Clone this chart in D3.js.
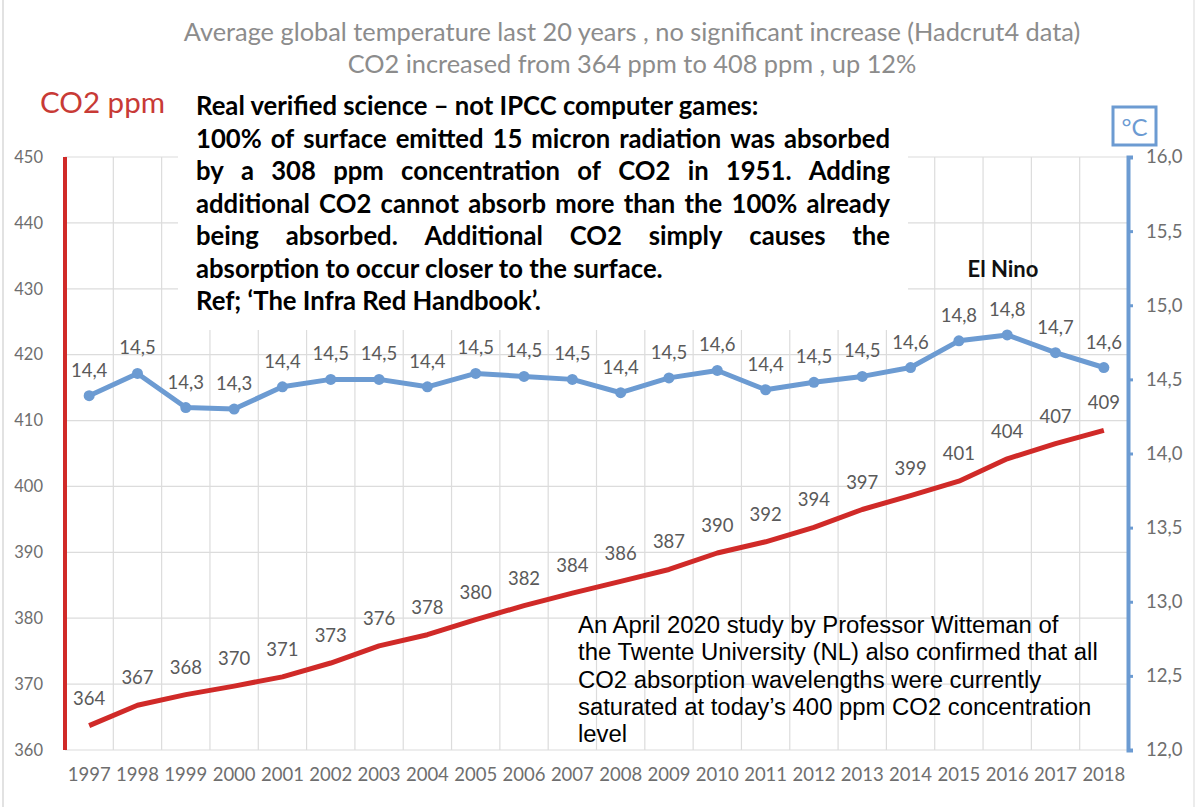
<!DOCTYPE html>
<html>
<head>
<meta charset="utf-8">
<script src="https://cdn.jsdelivr.net/npm/d3@7"></script>
<style>
  body { margin: 0; background: #fff; }
  svg { display: block; }
</style>
</head>
<body>
<div id="app"></div>
<script>
const years = ['1997', '1998', '1999', '2000', '2001', '2002', '2003', '2004', '2005', '2006', '2007',
  '2008', '2009', '2010', '2011', '2012', '2013', '2014', '2015', '2016', '2017', '2018'];

const co2 = [363.7, 366.8, 368.4, 369.7, 371.1, 373.2, 375.8, 377.5, 379.8, 381.9, 383.8,
  385.6, 387.4, 389.9, 391.6, 393.8, 396.5, 398.6, 400.8, 404.2, 406.5, 408.5];
const co2Labels = ['364', '367', '368', '370', '371', '373', '376', '378', '380', '382', '384',
  '386', '387', '390', '392', '394', '397', '399', '401', '404', '407', '409'];

const temp = [14.39, 14.54, 14.31, 14.30, 14.45, 14.50, 14.50, 14.45, 14.54, 14.52, 14.50,
  14.41, 14.51, 14.56, 14.43, 14.48, 14.52, 14.58, 14.76, 14.80, 14.68, 14.58];
const tempLabels = ['14,4', '14,5', '14,3', '14,3', '14,4', '14,5', '14,5', '14,4', '14,5', '14,5', '14,5',
  '14,4', '14,5', '14,6', '14,4', '14,5', '14,5', '14,6', '14,8', '14,8', '14,7', '14,6'];

const co2Ticks = [360, 370, 380, 390, 400, 410, 420, 430, 440, 450];
const tempTicks = [12.0, 12.5, 13.0, 13.5, 14.0, 14.5, 15.0, 15.5, 16.0];
const tempTickLabels = ['12,0', '12,5', '13,0', '13,5', '14,0', '14,5', '15,0', '15,5', '16,0'];

const titleLines = [
  'Average global temperature last 20 years , no significant increase (Hadcrut4 data)',
  'CO2 increased from 364 ppm to 408 ppm , up 12%'
];

// [text, justified]
const boxLines = [
  ['Real verified science \u2013 not IPCC computer games:', false],
  ['100% of surface emitted 15 micron radiation was absorbed', true],
  ['by a 308 ppm concentration of CO2 in 1951. Adding', true],
  ['additional CO2 cannot absorb more than the 100% already', true],
  ['being absorbed. Additional CO2 simply causes the', true],
  ['absorption to occur closer to the surface.', false],
  ['Ref; \u2018The Infra Red Handbook\u2019.', false]
];

const noteLines = [
  'An April 2020 study by Professor Witteman of',
  'the Twente University (NL) also confirmed that all',
  'CO2 absorption wavelengths were currently',
  'saturated at today\u2019s 400 ppm CO2 concentration',
  'level'
];

const RED = '#d02a28';
const BLUE = '#6c9bd2';
const GREY = '#6e6e6e';
const LABEL = '#5a5a5a';
const calibri = 'Lato, "Open Sans", sans-serif';
const arial = '"Liberation Sans", Arial, sans-serif';

const svg = d3.select('#app')
  .append('svg')
  .attr('width', 1200)
  .attr('height', 807);

svg.append('rect').attr('width', 1200).attr('height', 807).attr('fill', '#fff');

// faint sheet edges
svg.append('line').attr('x1', 3).attr('x2', 3).attr('y1', 0).attr('y2', 807)
  .attr('stroke', '#d8d8d8').attr('stroke-width', 1.5);
svg.append('line').attr('x1', 1194).attr('x2', 1194).attr('y1', 0).attr('y2', 807)
  .attr('stroke', '#e6e6e6').attr('stroke-width', 1.5);

const x = d3.scaleBand().domain(years).range([65, 1128]);
const yCo2 = d3.scaleLinear().domain([360, 450]).range([750, 157]);
const yTemp = d3.scaleLinear().domain([12, 16]).range([750, 157]);
const cx = d => x(d) + x.bandwidth() / 2;

// grid
const grid = svg.append('g').attr('stroke', '#dcdcdc').attr('stroke-width', 1.2);
grid.selectAll('.h')
  .data(co2Ticks)
  .join('line')
  .attr('x1', 65).attr('x2', 1128)
  .attr('y1', d => yCo2(d)).attr('y2', d => yCo2(d));
grid.selectAll('.v')
  .data(years.slice(1))
  .join('line')
  .attr('x1', d => x(d)).attr('x2', d => x(d))
  .attr('y1', yCo2(450)).attr('y2', yCo2(360));

// helper to measure text
const measure = (text, size, weight, family) => {
  const t = svg.append('text')
    .attr('font-family', family).attr('font-size', size).attr('font-weight', weight)
    .text(text);
  const w = t.node().getComputedTextLength();
  t.remove();
  return w;
};

// title
const titleSize = 22 * 897 / measure(titleLines[0], 22, 400, calibri);
titleLines.forEach((line, i) => {
  svg.append('text')
    .attr('x', 632)
    .attr('y', 41 + i * 32)
    .attr('text-anchor', 'middle')
    .attr('font-family', calibri)
    .attr('font-size', titleSize)
    .attr('fill', '#8c8c8c')
    .text(line);
});

// CO2 ppm label
svg.append('text')
  .attr('x', 40)
  .attr('y', 113)
  .attr('font-family', calibri)
  .attr('font-size', 22 * 125 / measure('CO2 ppm', 22, 400, calibri))
  .attr('fill', '#c83a36')
  .text('CO2 ppm');

// degree box
svg.append('rect')
  .attr('x', 1113).attr('y', 107).attr('width', 43).attr('height', 38)
  .attr('fill', '#fff').attr('stroke', BLUE).attr('stroke-width', 3);
svg.append('text')
  .attr('x', 1134.5).attr('y', 136)
  .attr('text-anchor', 'middle')
  .attr('font-family', calibri)
  .attr('font-size', 24)
  .attr('fill', BLUE)
  .text('\u00b0C');

// text box
svg.append('rect')
  .attr('x', 178).attr('y', 90).attr('width', 730).attr('height', 240)
  .attr('fill', '#fff');

const boxSize = 22 * 467 / measure(boxLines[5][0], 22, 700, calibri);
const boxLeft = 196, boxRight = 890;
const box = svg.append('g')
  .attr('font-family', calibri)
  .attr('font-size', boxSize)
  .attr('font-weight', 700)
  .attr('fill', '#000');

boxLines.forEach(([line, justify], i) => {
  const yy = 115 + i * 32.5;
  if (!justify) {
    box.append('text').attr('x', boxLeft).attr('y', yy).text(line);
    return;
  }
  const words = line.split(' ');
  const widths = words.map(w => measure(w, boxSize, 700, calibri));
  const gap = (boxRight - boxLeft - d3.sum(widths)) / (words.length - 1);
  let pos = boxLeft;
  words.forEach((w, j) => {
    box.append('text').attr('x', pos).attr('y', yy).text(w);
    pos += widths[j] + gap;
  });
});

// El Nino
svg.append('text')
  .attr('x', 1003).attr('y', 277)
  .attr('text-anchor', 'middle')
  .attr('font-family', calibri)
  .attr('font-size', 22)
  .attr('font-weight', 700)
  .attr('fill', '#111')
  .text('El Nino');

// note
const noteSize = 21 * 520 / measure(noteLines[1], 21, 400, arial);
noteLines.forEach((line, i) => {
  svg.append('text')
    .attr('x', 578)
    .attr('y', 633 + i * 27.3)
    .attr('font-family', arial)
    .attr('font-size', noteSize)
    .attr('fill', '#000')
    .text(line);
});

// left axis
const leftAxis = svg.append('g')
  .attr('transform', 'translate(65,0)')
  .call(d3.axisLeft(yCo2).tickValues(co2Ticks).tickSize(0).tickPadding(22));
leftAxis.select('.domain').remove();
leftAxis.selectAll('text')
  .attr('font-family', calibri).attr('font-size', 16.5).attr('fill', GREY);
svg.append('line')
  .attr('x1', 65).attr('x2', 65)
  .attr('y1', yCo2(450)).attr('y2', yCo2(360))
  .attr('stroke', RED).attr('stroke-width', 4);

// right axis
const rightAxis = svg.append('g')
  .attr('transform', 'translate(1128,0)')
  .call(d3.axisRight(yTemp).tickValues(tempTicks).tickSize(5).tickPadding(13)
    .tickFormat((d, i) => tempTickLabels[i]));
rightAxis.select('.domain').attr('stroke', BLUE).attr('stroke-width', 4);
rightAxis.selectAll('.tick line').attr('stroke', BLUE).attr('stroke-width', 3);
rightAxis.selectAll('text')
  .attr('font-family', calibri).attr('font-size', 18.5).attr('fill', GREY);

// bottom axis
const bottomAxis = svg.append('g')
  .attr('transform', 'translate(0,750)')
  .call(d3.axisBottom(x).tickSize(0).tickPadding(18));
bottomAxis.select('.domain').remove();
bottomAxis.selectAll('text')
  .attr('font-family', calibri).attr('font-size', 18.5).attr('fill', GREY);

// CO2 line
svg.append('path')
  .datum(co2)
  .attr('fill', 'none')
  .attr('stroke', RED)
  .attr('stroke-width', 5)
  .attr('stroke-linejoin', 'round')
  .attr('d', d3.line().x((d, i) => cx(years[i])).y(d => yCo2(d)));

svg.append('g')
  .attr('font-family', calibri).attr('font-size', 18.5).attr('fill', LABEL)
  .attr('text-anchor', 'middle')
  .selectAll('text')
  .data(co2)
  .join('text')
  .attr('x', (d, i) => cx(years[i]))
  .attr('y', d => yCo2(d) - 21)
  .text((d, i) => co2Labels[i]);

// temperature line
svg.append('path')
  .datum(temp)
  .attr('fill', 'none')
  .attr('stroke', BLUE)
  .attr('stroke-width', 5)
  .attr('stroke-linejoin', 'round')
  .attr('d', d3.line().x((d, i) => cx(years[i])).y(d => yTemp(d)));

svg.append('g')
  .attr('fill', BLUE)
  .selectAll('circle')
  .data(temp)
  .join('circle')
  .attr('cx', (d, i) => cx(years[i]))
  .attr('cy', d => yTemp(d))
  .attr('r', 5.5);

svg.append('g')
  .attr('font-family', calibri).attr('font-size', 18.5).attr('fill', LABEL)
  .attr('text-anchor', 'middle')
  .selectAll('text')
  .data(temp)
  .join('text')
  .attr('x', (d, i) => cx(years[i]))
  .attr('y', d => yTemp(d) - 19)
  .text((d, i) => tempLabels[i]);
</script>
</body>
</html>
